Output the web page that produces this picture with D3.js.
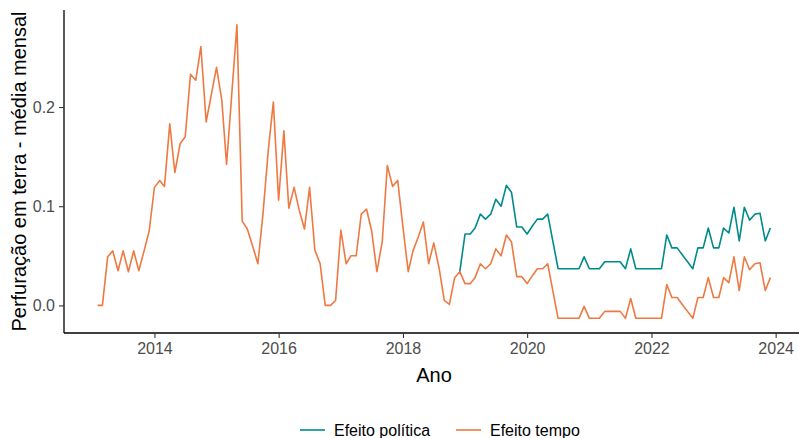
<!DOCTYPE html>
<html>
<head>
<meta charset="utf-8">
<script src="https://cdn.jsdelivr.net/npm/d3@7"></script>
<style>
body { margin: 0; background: #fff; }
svg { display: block; font-family: "Liberation Sans", Arial, sans-serif; }
</style>
</head>
<body>
<svg width="799" height="438"></svg>
<script>
// monthly series, Feb 2013 .. Dec 2023
var startMonth = "2013-02";

var efeitoTempo = [
  0, 0, 0.049, 0.055, 0.035, 0.055, 0.034, 0.055, 0.035, 0.055, 0.075,
  0.119, 0.126, 0.120, 0.183, 0.134, 0.163, 0.170, 0.233, 0.227, 0.261, 0.185, 0.212,
  0.240, 0.207, 0.142, 0.214, 0.283, 0.085, 0.077, 0.060, 0.042, 0.092, 0.156, 0.205,
  0.106, 0.176, 0.098, 0.119, 0.096, 0.077, 0.119, 0.056, 0.042, 0, 0, 0.005,
  0.076, 0.042, 0.050, 0.050, 0.092, 0.097, 0.075, 0.034, 0.064, 0.141, 0.120, 0.126,
  0.079, 0.034, 0.055, 0.069, 0.084, 0.042, 0.063, 0.038, 0.005, 0.001, 0.028, 0.034,
  0.022, 0.022, 0.028, 0.042, 0.037, 0.042, 0.057, 0.050, 0.071, 0.064, 0.029, 0.029,
  0.022, 0.030, 0.037, 0.037, 0.042, 0.014, -0.013, -0.013, -0.013, -0.013, -0.013, -0.001,
  -0.013, -0.013, -0.013, -0.006, -0.006, -0.006, -0.006, -0.013, 0.007, -0.013, -0.013, -0.013,
  -0.013, -0.013, -0.013, 0.021, 0.008, 0.008, 0.001, -0.006, -0.013, 0.008, 0.008, 0.028,
  0.008, 0.008, 0.028, 0.023, 0.049, 0.015, 0.049, 0.036, 0.042, 0.043, 0.015, 0.028
];

// starts Dec 2018
var politicaStart = "2018-12";
var efeitoPolitica = [
  0.034,
  0.072, 0.072, 0.078, 0.092, 0.087, 0.092, 0.107, 0.100, 0.121, 0.114, 0.079, 0.079,
  0.072, 0.080, 0.087, 0.087, 0.092, 0.064, 0.037, 0.037, 0.037, 0.037, 0.037, 0.049,
  0.037, 0.037, 0.037, 0.044, 0.044, 0.044, 0.044, 0.037, 0.057, 0.037, 0.037, 0.037,
  0.037, 0.037, 0.037, 0.071, 0.058, 0.058, 0.051, 0.044, 0.037, 0.058, 0.058, 0.078,
  0.058, 0.058, 0.078, 0.073, 0.099, 0.065, 0.099, 0.086, 0.092, 0.093, 0.065, 0.078
];

var yTicks = [0, 0.1, 0.2];
var xTickYears = [2014, 2016, 2018, 2020, 2022, 2024];

var seriesNames = ["Efeito política", "Efeito tempo"];
var seriesColors = ["#008B8B", "#EE7942"];

var svg = d3.select("svg");

// panel geometry (right edge runs past the picture, as in the source)
var panelL = 64, panelR = 804, panelT = 10, panelB = 333;

var parseMonth = d3.timeParse("%Y-%m");

function toPoints(start, values) {
  var d0 = parseMonth(start);
  return values.map(function(v, i) {
    return { date: d3.timeMonth.offset(d0, i), value: v };
  });
}

var tempo = toPoints(startMonth, efeitoTempo);
var politica = toPoints(politicaStart, efeitoPolitica);
var all = tempo.concat(politica);

// ggplot-like 5% expansion
var xExt = d3.extent(all, function(d) { return d.date; });
var xSpan = xExt[1] - xExt[0];
var x = d3.scaleTime()
    .domain([new Date(+xExt[0] - xSpan * 0.05), new Date(+xExt[1] + xSpan * 0.05)])
    .range([panelL, panelR]);

var yExt = d3.extent(all, function(d) { return d.value; });
var ySpan = yExt[1] - yExt[0];
var y = d3.scaleLinear()
    .domain([yExt[0] - ySpan * 0.05, yExt[1] + ySpan * 0.05])
    .range([panelB, panelT]);

var line = d3.line()
    .x(function(d) { return x(d.date); })
    .y(function(d) { return y(d.value); });

// lines
svg.append("path")
    .datum(politica)
    .attr("fill", "none")
    .attr("stroke", seriesColors[0])
    .attr("stroke-width", 1.6)
    .attr("stroke-linejoin", "round")
    .attr("d", line);

svg.append("path")
    .datum(tempo)
    .attr("fill", "none")
    .attr("stroke", seriesColors[1])
    .attr("stroke-width", 1.6)
    .attr("stroke-linejoin", "round")
    .attr("d", line);

// axes
var xAxis = svg.append("g")
    .attr("transform", "translate(0," + panelB + ")")
    .call(d3.axisBottom(x)
        .tickValues(xTickYears.map(function(yr) { return new Date(yr, 0, 1); }))
        .tickFormat(d3.timeFormat("%Y"))
        .tickSizeInner(5).tickSizeOuter(0).tickPadding(5));

var yAxis = svg.append("g")
    .attr("transform", "translate(" + panelL + ",0)")
    .call(d3.axisLeft(y)
        .tickValues(yTicks)
        .tickFormat(d3.format(".1f"))
        .tickSizeInner(5).tickSizeOuter(0).tickPadding(4));

svg.selectAll(".domain").attr("stroke", "#000").attr("stroke-width", 1.3);
svg.selectAll(".tick line").attr("stroke", "#333").attr("stroke-width", 1.1);
svg.selectAll(".tick text")
    .attr("fill", "#4d4d4d")
    .style("font-size", "16px")
    .style("font-family", "'Liberation Sans', Arial, sans-serif");

// make the two axis lines meet in the corner
yAxis.select(".domain").attr("d", "M0," + panelT + "V" + panelB);
xAxis.select(".domain").attr("d", "M" + panelL + ",0H" + panelR);

// titles
svg.append("text")
    .attr("x", (panelL + panelR) / 2)
    .attr("y", 382)
    .attr("text-anchor", "middle")
    .style("font-size", "20px")
    .text("Ano");

svg.append("text")
    .attr("transform", "translate(26," + (panelT + panelB) / 2 + ") rotate(-90)")
    .attr("text-anchor", "middle")
    .style("font-size", "20px")
    .text("Perfuração em terra - média mensal");

// legend
var legend = svg.append("g").attr("transform", "translate(0,430)");
var legendX = [300, 456];
seriesNames.forEach(function(name, i) {
  legend.append("line")
      .attr("x1", legendX[i]).attr("x2", legendX[i] + 25)
      .attr("y1", 0).attr("y2", 0)
      .attr("stroke", seriesColors[i])
      .attr("stroke-width", 1.6);
  legend.append("text")
      .attr("x", legendX[i] + 34)
      .attr("y", 5.5)
      .style("font-size", "16px")
      .text(name);
});
</script>
</body>
</html>
